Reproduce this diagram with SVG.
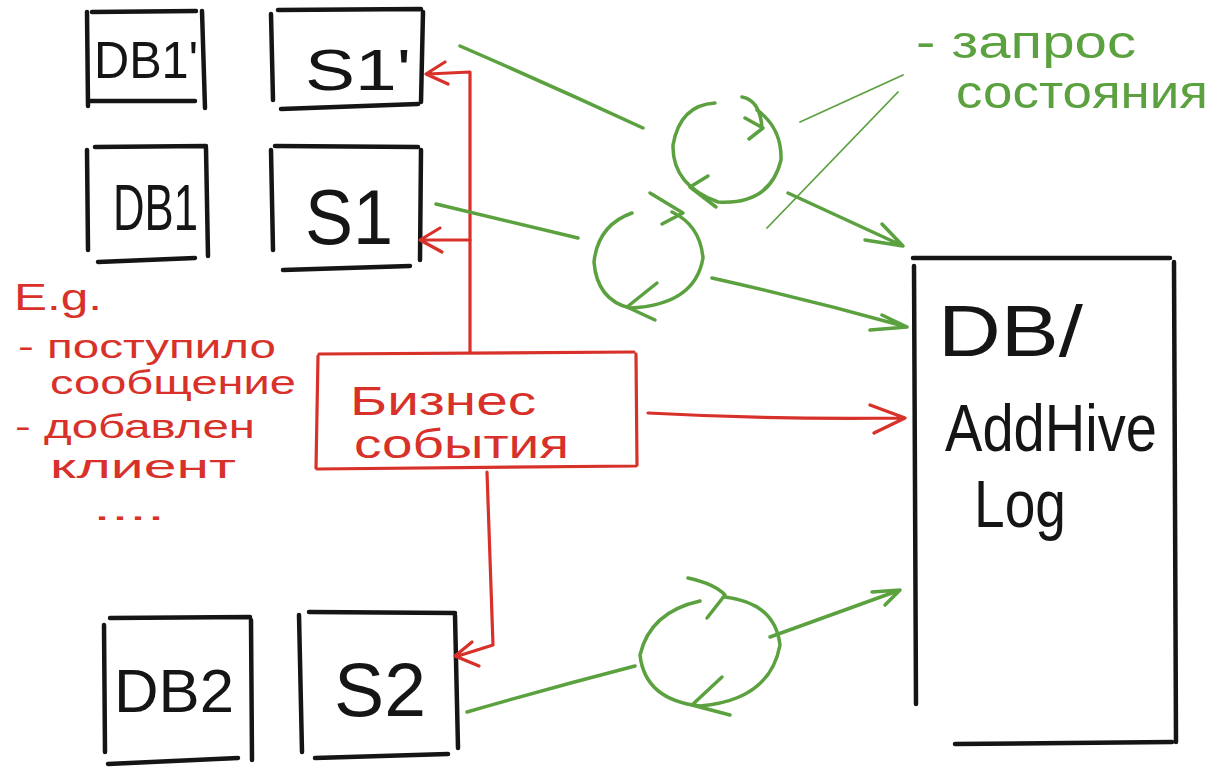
<svg xmlns="http://www.w3.org/2000/svg" width="1219" height="767" viewBox="0 0 1219 767">
<style>
.bk{fill:none;stroke:#151515;stroke-width:4.5;stroke-linecap:round}
.rd{fill:none;stroke:#d8312a;stroke-width:3.2;stroke-linecap:round;stroke-linejoin:round}
.gr{fill:none;stroke:#5ba13f;stroke-width:3.5;stroke-linecap:round;stroke-linejoin:round}
.grt{fill:none;stroke:#5ba13f;stroke-width:1.8;stroke-linecap:round}
.tb{font-family:"Liberation Sans",Arial,sans-serif;fill:#151515}
.tr{font-family:"Liberation Sans",Arial,sans-serif;fill:#d8312a}
.tg{font-family:"Liberation Sans",Arial,sans-serif;fill:#5ba13f}
</style>
<rect width="1219" height="767" fill="#ffffff"/>

<g id="db1p">
<path class="bk" d="M87 12 L88 106 M92 12 L196 11 M202 11 L205 108 M89 101 L195 101"/>
<text class="tb" x="94" y="78" font-size="52" textLength="104" lengthAdjust="spacingAndGlyphs">DB1'</text>
</g>
<g id="s1p">
<path class="bk" d="M271 14 L273 100 M278 10 L421 9 M423 12 L421 102 M281 109 L418 104"/>
<text class="tb" x="305" y="90" font-size="58" textLength="106" lengthAdjust="spacingAndGlyphs">S1'</text>
</g>
<g id="db1">
<path class="bk" d="M87 150 L88 250 M95 147 L206 146 M206 148 L208 256 M98 262 L195 258"/>
<text class="tb" x="113" y="230" font-size="64" textLength="85" lengthAdjust="spacingAndGlyphs">DB1</text>
</g>
<g id="s1">
<path class="bk" d="M271 150 L273 250 M275 146 L418 147 M421 150 L420 260 M283 270 L410 266"/>
<text class="tb" x="305" y="244" font-size="78" textLength="88" lengthAdjust="spacingAndGlyphs">S1</text>
</g>
<g id="db2">
<path class="bk" d="M104 625 L105 752 M110 618 L250 617 M251 620 L252 760 M108 764 L238 758"/>
<text class="tb" x="114" y="712" font-size="62" textLength="120" lengthAdjust="spacingAndGlyphs">DB2</text>
</g>
<g id="s2">
<path class="bk" d="M299 615 L302 752 M309 612 L455 613 M455 615 L458 748 M315 758 L448 754"/>
<text class="tb" x="334" y="716" font-size="76" textLength="92" lengthAdjust="spacingAndGlyphs">S2</text>
</g>
<g id="log">
<path class="bk" d="M914 266 L916 704 M913 258 L1170 258 M1174 262 L1176 742 M955 744 L1172 742"/>
<text class="tb" x="938" y="356" font-size="72" textLength="145" lengthAdjust="spacingAndGlyphs">DB/</text>
<text class="tb" x="945" y="451" font-size="66" textLength="212" lengthAdjust="spacingAndGlyphs">AddHive</text>
<text class="tb" x="974" y="527" font-size="66" textLength="92" lengthAdjust="spacingAndGlyphs">Log</text>
</g>

<g id="events">
<path class="rd" d="M319 354 L634 352 M318 356 L316 468 M636 354 L637 465 M317 469 L636 466"/>
<text class="tr" x="350" y="415" font-size="40" textLength="186" lengthAdjust="spacingAndGlyphs">Бизнес</text>
<text class="tr" x="354" y="458" font-size="40" textLength="215" lengthAdjust="spacingAndGlyphs">события</text>
</g>

<g id="examples">
<text class="tr" x="14" y="310" font-size="36" textLength="88" lengthAdjust="spacingAndGlyphs">E.g.</text>
<text class="tr" x="18" y="358" font-size="34" textLength="258" lengthAdjust="spacingAndGlyphs">- поступило</text>
<text class="tr" x="50" y="394" font-size="34" textLength="246" lengthAdjust="spacingAndGlyphs">сообщение</text>
<text class="tr" x="15" y="438" font-size="34" textLength="240" lengthAdjust="spacingAndGlyphs">- добавлен</text>
<text class="tr" x="50" y="478" font-size="34" textLength="186" lengthAdjust="spacingAndGlyphs">клиент</text>
<text class="tr" x="93" y="520" font-size="34" textLength="72" lengthAdjust="spacingAndGlyphs">....</text>
</g>

<g id="query">
<text class="tg" x="916" y="58" font-size="46" textLength="220" lengthAdjust="spacingAndGlyphs">- запрос</text>
<text class="tg" x="956" y="108" font-size="46" textLength="252" lengthAdjust="spacingAndGlyphs">состояния</text>
</g>

<g id="connectors">
<path class="rd" d="M470 352 L470 72 L428 74 M445 62 L426 74 L448 84"/>
<path class="rd" d="M470 240 L422 240 M440 228 L420 240 L442 252"/>
<path class="rd" d="M648 413 Q780 420 905 418 M870 405 L905 418 L874 433"/>
<path class="rd" d="M487 472 L493 645 L458 656 M472 642 L455 656 L479 666"/>
<path class="gr" d="M460 46 Q550 85 643 128"/>
<path class="gr" d="M436 204 Q510 222 578 238"/>
<path class="gr" d="M788 193 L903 246 M865 240 L903 246 L882 224"/>
<path class="gr" d="M712 278 Q810 300 907 327 M870 330 L907 327 L882 315"/>
<path class="gr" d="M467 712 Q550 688 635 666"/>
<path class="gr" d="M770 637 Q840 612 900 590 M872 592 L900 590 L885 605"/>
<path class="grt" d="M800 122 L903 75 M767 228 L898 92"/>
<g id="cycle1">
<path class="gr" d="M715 103 Q680 105 673 145 Q672 185 718 202 Q770 205 781 160 Q782 128 757 110"/>
<path class="gr" d="M742 97 Q760 100 762 128 M745 118 L763 128 L749 139"/>
<path class="gr" d="M690 187 L708 176 M690 187 L716 207"/>
</g>
<g id="cycle2">
<path class="gr" d="M632 213 Q598 225 594 262 Q597 300 630 308 Q695 305 703 258 Q700 225 672 212"/>
<path class="gr" d="M650 193 L683 213 L662 224"/>
<path class="gr" d="M627 307 L657 283 M627 307 L655 320"/>
</g>
<g id="cycle3">
<path class="gr" d="M700 601 Q650 612 640 655 Q645 700 700 706 Q770 700 780 645 Q775 603 725 597"/>
<path class="gr" d="M688 578 Q715 584 725 595 L707 618"/>
<path class="gr" d="M722 677 L692 705 L730 715"/>
</g>
</g>
</svg>
